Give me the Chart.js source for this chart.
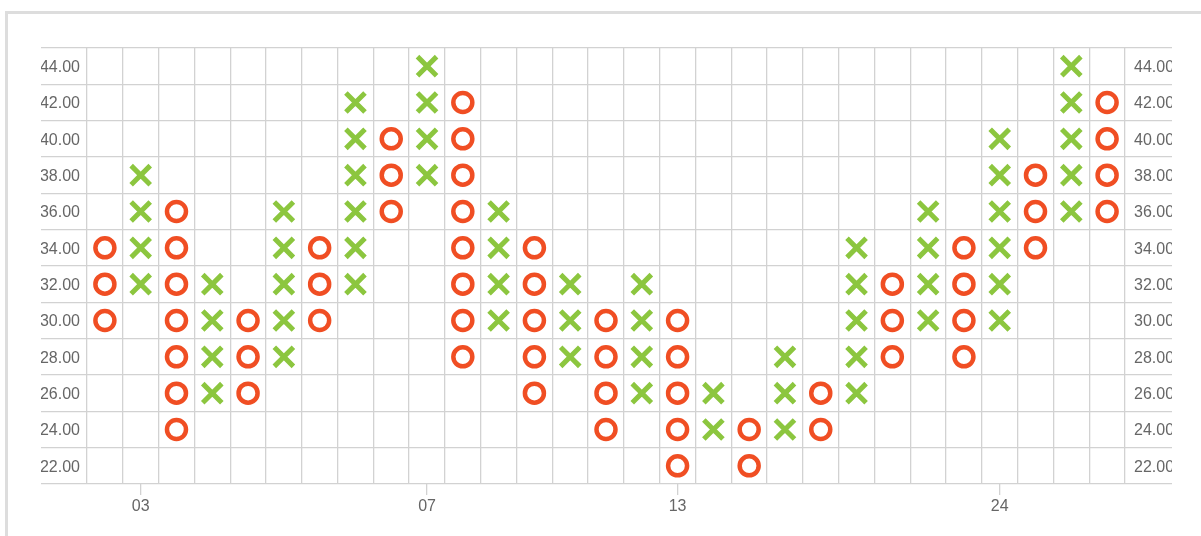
<!DOCTYPE html>
<html>
<head>
<meta charset="utf-8">
<script src="https://cdn.jsdelivr.net/npm/chart.js@4/dist/chart.umd.min.js"></script>
<style>
  html, body { margin: 0; padding: 0; background: #fff; }
  body { width: 1201px; height: 536px; position: relative; overflow: hidden; }
  .frame {
    position: absolute; left: 5px; top: 11px;
    width: 1300px; height: 600px;
    border: 3px solid #dddddd;
  }
  .wrap { position: absolute; left: 0; top: 0; width: 1201px; height: 536px; }
</style>
</head>
<body>
<div class="frame"></div>
<div class="wrap"><canvas id="chart"></canvas></div>
<script>
// x axis: one entry per column, only a few columns carry a date label
const columnLabels = ['', '03', '', '', '', '', '', '', '', '07', '', '', '', '', '',
  '', '13', '', '', '', '', '', '', '', '', '24', '', '', ''];

// y axis: box prices, top to bottom
const priceLabels = ['44.00', '42.00', '40.00', '38.00', '36.00', '34.00',
  '32.00', '30.00', '28.00', '26.00', '24.00', '22.00'];

// column kind and the boxes filled in each column
const columnTypes = ['O', 'X', 'O', 'X', 'O', 'X', 'O', 'X', 'O', 'X', 'O', 'X', 'O', 'X', 'O',
  'X', 'O', 'X', 'O', 'X', 'O', 'X', 'O', 'X', 'O', 'X', 'O', 'X', 'O'];
const columnBoxes = [
  [34, 32, 30],
  [32, 34, 36, 38],
  [36, 34, 32, 30, 28, 26, 24],
  [26, 28, 30, 32],
  [30, 28, 26],
  [28, 30, 32, 34, 36],
  [34, 32, 30],
  [32, 34, 36, 38, 40, 42],
  [40, 38, 36],
  [38, 40, 42, 44],
  [42, 40, 38, 36, 34, 32, 30, 28],
  [30, 32, 34, 36],
  [34, 32, 30, 28, 26],
  [28, 30, 32],
  [30, 28, 26, 24],
  [26, 28, 30, 32],
  [30, 28, 26, 24, 22],
  [24, 26],
  [24, 22],
  [24, 26, 28],
  [26, 24],
  [26, 28, 30, 32, 34],
  [32, 30, 28],
  [30, 32, 34, 36],
  [34, 32, 30, 28],
  [30, 32, 34, 36, 38, 40],
  [38, 36, 34],
  [36, 38, 40, 42, 44],
  [42, 40, 38, 36],
];

const X_COLOR = '#8cc63f';
const O_COLOR = '#f04e23';
const GRID_COLOR = '#d2d2d2';
const TEXT_COLOR = '#666666';
const FONT = { family: '"Liberation Sans", Arial, sans-serif', size: 16 };

// category scales take the label index as their internal value
function boxesOf(kind) {
  const points = [];
  columnBoxes.forEach((boxes, col) => {
    if (columnTypes[col] !== kind) return;
    boxes.forEach(price => {
      points.push({ x: col, y: priceLabels.indexOf(price.toFixed(2)) });
    });
  });
  return points;
}

const yAxis = (position, tickLength, padding) => ({
  type: 'category',
  position: position,
  labels: priceLabels,
  offset: true,
  border: { display: false },
  grid: {
    offset: true,
    color: GRID_COLOR,
    tickColor: GRID_COLOR,
    lineWidth: 1.3,
    tickLength: tickLength,
    drawOnChartArea: position === 'left',
  },
  ticks: { autoSkip: false, padding: padding, labelOffset: 1.5, color: TEXT_COLOR, font: FONT },
  afterFit: axis => { axis.width = tickLength; },
});

new Chart(document.getElementById('chart'), {
  type: 'scatter',
  data: {
    datasets: [
      {
        label: 'X',
        parsing: false,
        data: boxesOf('X'),
        pointStyle: 'crossRot',
        pointRadius: 13.5,
        pointBorderWidth: 5,
        pointBorderColor: X_COLOR,
        pointBackgroundColor: X_COLOR,
      },
      {
        label: 'O',
        parsing: false,
        data: boxesOf('O'),
        pointStyle: 'circle',
        pointRadius: 9.5,
        pointBorderWidth: 4.5,
        pointBorderColor: O_COLOR,
        pointBackgroundColor: 'rgba(255,255,255,0)',
      },
    ],
  },
  options: {
    responsive: true,
    maintainAspectRatio: false,
    animation: false,
    events: [],
    layout: { padding: { left: 41, right: 29, top: 48, bottom: 22 } },
    plugins: { legend: { display: false }, tooltip: { enabled: false } },
    scales: {
      x: {
        type: 'category',
        labels: columnLabels,
        offset: true,
        border: { display: false },
        grid: { offset: true, color: GRID_COLOR, lineWidth: 1.3, drawTicks: false },
        ticks: { display: false },
      },
      // second x axis only for the date labels and their tick marks
      x2: {
        type: 'category',
        position: 'bottom',
        labels: columnLabels,
        offset: true,
        weight: 1,
        border: { display: false },
        grid: {
          offset: false,
          drawOnChartArea: false,
          color: GRID_COLOR,
          tickColor: GRID_COLOR,
          lineWidth: 1.3,
          tickLength: 11,
        },
        ticks: { autoSkip: false, maxRotation: 0, padding: 2, color: TEXT_COLOR, font: FONT },
        afterBuildTicks: axis => {
          axis.ticks = axis.ticks.filter(t => columnLabels[t.value] !== '');
        },
        afterFit: axis => { axis.height = 30; },
      },
      y: yAxis('left', 46, -39),
      y2: yAxis('right', 47, -38),
    },
  },
});
</script>
</body>
</html>
